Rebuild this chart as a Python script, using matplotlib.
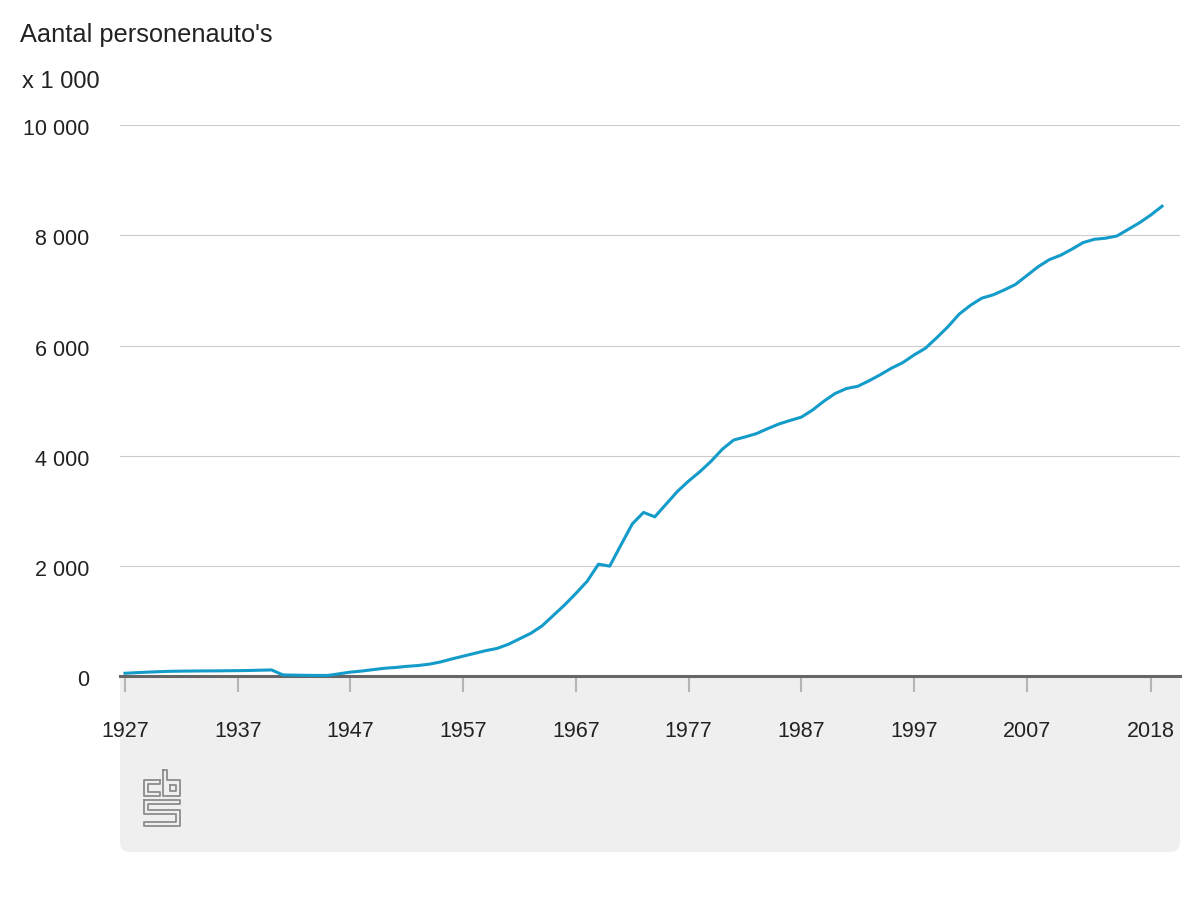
import matplotlib
matplotlib.use('Agg')
import matplotlib.pyplot as plt
from matplotlib.patches import FancyBboxPatch, Rectangle
from matplotlib.transforms import Affine2D, ScaledTranslation

plt.rcParams['font.family'] = ['Liberation Sans', 'DejaVu Sans']

# Aantal personenauto's (x 1 000)
years = list(range(1927, 2020))
cars = [
    50, 60, 70, 78, 85, 88, 90, 92, 93, 95,          # 1927-1936
    97, 100, 105, 110, 20, 15, 12, 10, 10, 40,       # 1937-1946
    70, 90, 115, 140, 155, 175, 190, 215, 255, 310,  # 1947-1956
    360, 410, 460, 500, 575, 675, 775, 910, 1100, 1290,  # 1957-1966
    1500, 1720, 2030, 1995, 2380, 2760, 2970, 2890, 3120, 3350,  # 1967-1976
    3540, 3710, 3900, 4120, 4285, 4340, 4400, 4490, 4575, 4640,  # 1977-1986
    4700, 4830, 4990, 5130, 5220, 5260, 5360, 5470, 5590, 5690,  # 1987-1996
    5830, 5950, 6140, 6340, 6570, 6730, 6860, 6920, 7010, 7110,  # 1997-2006
    7270, 7430, 7560, 7640, 7750, 7870, 7930, 7950, 7990, 8110,  # 2007-2016
    8230, 8370, 8530,                                # 2017-2019
]
xticks = [1927, 1937, 1947, 1957, 1967, 1977, 1987, 1997, 2007, 2018]
yticks = [0, 2000, 4000, 6000, 8000, 10000]
ytick_labels = ['0', '2 000', '4 000', '6 000', '8 000', '10 000']

fig = plt.figure(figsize=(12, 9), dpi=100)
px = Affine2D().scale(1 / 1200, 1 / 900) + fig.transFigure  # pixel coords, y up

# grey footer box with rounded bottom corners
fig.patches.append(FancyBboxPatch((120, 48), 1060, 176, boxstyle='round,pad=0,rounding_size=10',
                                  transform=px, facecolor='#efefef', edgecolor='none', zorder=0))
fig.patches.append(Rectangle((120, 150), 1060, 74, transform=px,
                             facecolor='#efefef', edgecolor='none', zorder=0))

ax = fig.add_axes([0.1, 0.2489, 0.8833, 0.6119])
ax.set_zorder(2)
ax.set_facecolor('none')
ax.plot(years, cars, color='#139bc9', lw=2.2, zorder=5, clip_on=False, solid_joinstyle='round')

ax.set_xlim(1926.556, 2020.59)
ax.set_ylim(0, 10000)
ax.set_yticks(yticks)
ax.set_yticklabels(ytick_labels)
ax.set_xticks(xticks)
ax.set_xticklabels([str(y) for y in xticks])
ax.grid(axis='y', color='#cccccc', lw=0.8)
ax.set_axisbelow(True)

for s in ['top', 'right', 'left']:
    ax.spines[s].set_visible(False)
ax.spines['bottom'].set_color('#666666')
ax.spines['bottom'].set_linewidth(2.2)
ax.spines['bottom'].set_zorder(4)

ax.tick_params(axis='y', length=0, pad=22, labelsize=15.5, labelcolor='#222222')
ax.tick_params(axis='x', length=11.5, width=1.5, color='#b5b5b5', pad=21,
               labelsize=15.5, labelcolor='#222222')
down = ScaledTranslation(0, -2 / 100, fig.dpi_scale_trans)
for lab in ax.get_yticklabels():
    lab.set_transform(lab.get_transform() + down)

fig.text(20 / 1200, 1 - 35 / 900, "Aantal personenauto's", fontsize=18.3, color='#222222', va='center')
fig.text(22 / 1200, 1 - 82 / 900, 'x 1 000', fontsize=17, color='#222222', va='center')

# cbs logo, rough outline
logo = [
    [(160, 780), (144, 780), (144, 796), (160, 796), (160, 792), (148, 792), (148, 784), (160, 784), (160, 780)],
    [(163, 770), (167, 770), (167, 780), (180, 780), (180, 796), (163, 796), (163, 770)],
    [(170, 785), (176, 785), (176, 791), (170, 791), (170, 785)],
    [(144, 800), (180, 800), (180, 804), (148, 804), (148, 810), (180, 810), (180, 826),
     (144, 826), (144, 822), (176, 822), (176, 814), (144, 814), (144, 800)],
]
for path in logo:
    xs = [p[0] for p in path]
    ys = [900 - p[1] for p in path]
    fig.lines.append(plt.Line2D(xs, ys, transform=px, color='#8c8c8c', lw=1.3))

fig.savefig('out.png', dpi=100)
